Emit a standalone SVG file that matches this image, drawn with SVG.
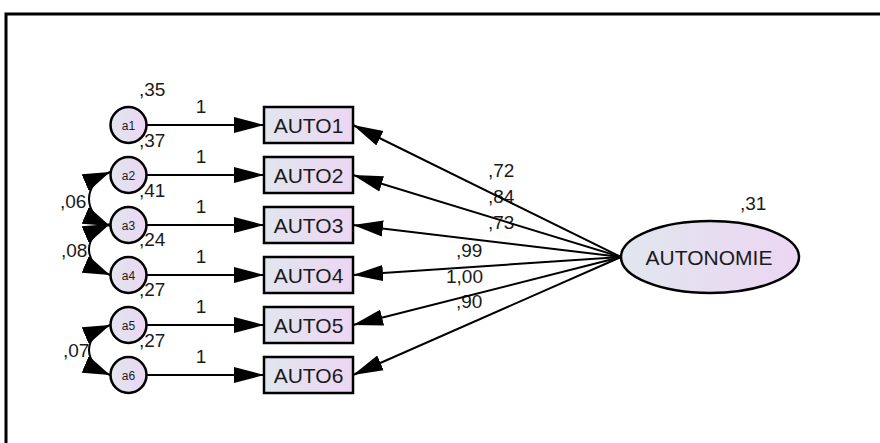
<svg xmlns="http://www.w3.org/2000/svg" width="880" height="443" viewBox="0 0 880 443">
<defs>
<linearGradient id="fill" x1="0" y1="0" x2="1" y2="0">
<stop offset="0" stop-color="#e1e6ee"/>
<stop offset="1" stop-color="#ecd6f3"/>
</linearGradient>
<marker id="ah" markerUnits="userSpaceOnUse" markerWidth="31" markerHeight="18" viewBox="0 -9 31 18" refX="30" refY="0" orient="auto-start-reverse">
<path d="M0,-8 L30,0 L0,8 z" fill="#000"/>
</marker>
<marker id="ahc" markerUnits="userSpaceOnUse" markerWidth="28" markerHeight="20" viewBox="0 -10 28 20" refX="27" refY="0" orient="auto-start-reverse">
<path d="M0,-9 L27,0 L0,9 z" fill="#000"/>
</marker>
</defs>
<style>
.lbl{font-family:"Liberation Sans",Arial,sans-serif;font-size:19px;fill:#1a1a1a}
.nt{font-family:"Liberation Sans",Arial,sans-serif;font-size:21px;fill:#1a1a1a;text-anchor:middle}
.ct{font-family:"Liberation Sans",Arial,sans-serif;font-size:12px;fill:#1a1a1a;text-anchor:middle}
.shape{fill:url(#fill);stroke:#000;stroke-width:2.5}
.arr{stroke:#000;stroke-width:2;fill:none;marker-end:url(#ah)}
.cov{stroke:#000;stroke-width:2;fill:none;marker-start:url(#ahc);marker-end:url(#ahc)}
</style>
<rect width="880" height="443" fill="#fff"/>
<path d="M6,443 V14 H880" fill="none" stroke="#000" stroke-width="3"/>

<g id="labels">
<text class="lbl" x="139" y="96">,35</text>
<text class="lbl" x="139" y="147">,37</text>
<text class="lbl" x="139" y="197">,41</text>
<text class="lbl" x="139" y="246">,24</text>
<text class="lbl" x="139" y="296">,27</text>
<text class="lbl" x="139" y="347">,27</text>
<text class="lbl" x="201" y="113" text-anchor="middle">1</text>
<text class="lbl" x="201" y="163" text-anchor="middle">1</text>
<text class="lbl" x="201" y="213" text-anchor="middle">1</text>
<text class="lbl" x="201" y="263" text-anchor="middle">1</text>
<text class="lbl" x="201" y="313" text-anchor="middle">1</text>
<text class="lbl" x="201" y="363" text-anchor="middle">1</text>
<text class="lbl" x="60" y="208">,06</text>
<text class="lbl" x="61" y="257">,08</text>
<text class="lbl" x="63" y="357">,07</text>
<text class="lbl" x="488" y="177">,72</text>
<text class="lbl" x="488" y="203">,84</text>
<text class="lbl" x="488" y="229">,73</text>
<text class="lbl" x="456" y="257">,99</text>
<text class="lbl" x="446" y="283">1,00</text>
<text class="lbl" x="456" y="308">,90</text>
<text class="lbl" x="740" y="210">,31</text>
</g>

<g id="connectors">
<line class="arr" x1="146" y1="125" x2="264" y2="125"/>
<line class="arr" x1="146" y1="175" x2="264" y2="175"/>
<line class="arr" x1="146" y1="225" x2="264" y2="225"/>
<line class="arr" x1="146" y1="275" x2="264" y2="275"/>
<line class="arr" x1="146" y1="325" x2="264" y2="325"/>
<line class="arr" x1="146" y1="375" x2="264" y2="375"/>
<line class="arr" x1="621" y1="257" x2="353" y2="125"/>
<line class="arr" x1="621" y1="257" x2="353" y2="175"/>
<line class="arr" x1="621" y1="257" x2="353" y2="225"/>
<line class="arr" x1="621" y1="257" x2="353" y2="275"/>
<line class="arr" x1="621" y1="257" x2="353" y2="325"/>
<line class="arr" x1="621" y1="257" x2="353" y2="375"/>
<path class="cov" d="M110,172 C82,184 82,214 110,226"/>
<path class="cov" d="M110,224 C82,236 82,263 110,275"/>
<path class="cov" d="M110,325 C82,337 82,363 110,375"/>
</g>

<g id="a1"><circle class="shape" cx="128.5" cy="125" r="18"/><text class="ct" x="128.5" y="129.5">a1</text></g>
<g id="a2"><circle class="shape" cx="128.5" cy="175" r="18"/><text class="ct" x="128.5" y="179.5">a2</text></g>
<g id="a3"><circle class="shape" cx="128.5" cy="225" r="18"/><text class="ct" x="128.5" y="229.5">a3</text></g>
<g id="a4"><circle class="shape" cx="128.5" cy="275" r="18"/><text class="ct" x="128.5" y="279.5">a4</text></g>
<g id="a5"><circle class="shape" cx="128.5" cy="325" r="18"/><text class="ct" x="128.5" y="329.5">a5</text></g>
<g id="a6"><circle class="shape" cx="128.5" cy="375" r="18"/><text class="ct" x="128.5" y="379.5">a6</text></g>

<g id="AUTO1"><rect class="shape" x="264" y="107" width="89" height="36"/><text class="nt" x="308.5" y="132.5">AUTO1</text></g>
<g id="AUTO2"><rect class="shape" x="264" y="157" width="89" height="36"/><text class="nt" x="308.5" y="182.5">AUTO2</text></g>
<g id="AUTO3"><rect class="shape" x="264" y="207" width="89" height="36"/><text class="nt" x="308.5" y="232.5">AUTO3</text></g>
<g id="AUTO4"><rect class="shape" x="264" y="257" width="89" height="36"/><text class="nt" x="308.5" y="282.5">AUTO4</text></g>
<g id="AUTO5"><rect class="shape" x="264" y="307" width="89" height="36"/><text class="nt" x="308.5" y="332.5">AUTO5</text></g>
<g id="AUTO6"><rect class="shape" x="264" y="357" width="89" height="36"/><text class="nt" x="308.5" y="382.5">AUTO6</text></g>

<g id="AUTONOMIE"><ellipse class="shape" cx="710" cy="257" rx="89" ry="36"/><text class="nt" x="709" y="264.5">AUTONOMIE</text></g>
</svg>
